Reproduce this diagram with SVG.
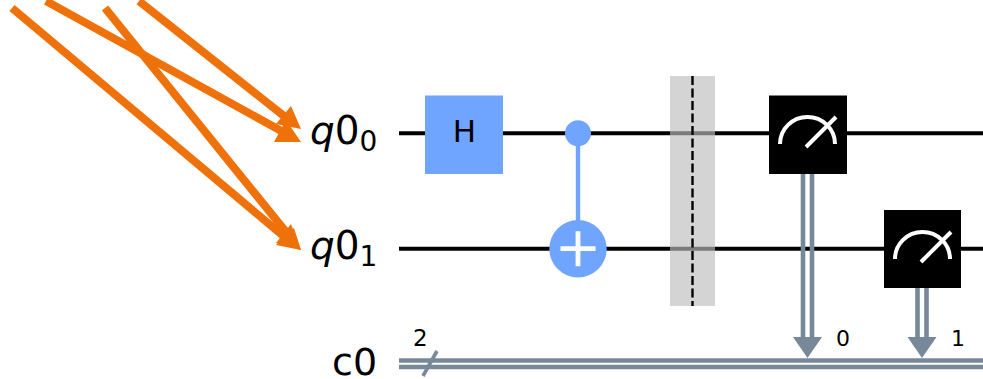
<svg xmlns="http://www.w3.org/2000/svg" width="983" height="379" viewBox="0 0 983 379">
<style>
text{font-family:"DejaVu Sans",sans-serif;fill:#000}
.wire{stroke:#000;stroke-width:4;fill:none}
.cl{stroke:#778899;stroke-width:4.6;fill:none}
.ar{stroke:#ef710a;stroke-width:8;fill:none}
.g{stroke:#fff;stroke-width:4;fill:none}
.mb{fill:#000}
.blue{fill:#6fa4ff}
</style>
<rect width="983" height="379" fill="#fff"/>
<g id="wires">
<line class="wire" x1="399" y1="133.3" x2="983" y2="133.3"/>
<line class="wire" x1="399" y1="248.7" x2="983" y2="248.7"/>
<line class="cl" x1="399" y1="360.5" x2="983" y2="360.5"/>
<line class="cl" x1="399" y1="367" x2="983" y2="367"/>
<line x1="423" y1="376" x2="437" y2="351" stroke="#778899" stroke-width="3.6"/>
</g>
<g id="labels">
<text id="q00" x="310" y="143.500" font-size="39"><tspan font-style="italic">q</tspan>0<tspan font-size="28" dy="7">0</tspan></text>
<text id="q01" x="310" y="259" font-size="39"><tspan font-style="italic">q</tspan>0<tspan font-size="28" dy="7">1</tspan></text>
<text id="c0" x="332" y="375" font-size="38">c0</text>
<text id="n2" x="413" y="346" font-size="23">2</text>
<text id="m0" x="836" y="346" font-size="22">0</text>
<text id="m1" x="951" y="346" font-size="22">1</text>
</g>
<g id="h"><rect class="blue" x="425" y="95.500" width="78" height="78.500"/><text x="464.500" y="142" font-size="31" text-anchor="middle">H</text></g>
<g id="cx">
<line x1="578" y1="133" x2="578" y2="248" stroke="#6fa4ff" stroke-width="4.400"/>
<circle class="blue" cx="578" cy="133.300" r="13"/>
<circle class="blue" cx="578" cy="248.700" r="28.700"/>
<path d="M560.500 248.700H595.500M578 231.200V266.200" stroke="#fff" stroke-width="4.800" fill="none"/>
</g>
<g id="barrier">
<rect x="670" y="76" width="45" height="230" fill="#bdbdbd" fill-opacity="0.65"/>
<line x1="692.500" y1="76" x2="692.500" y2="306" stroke="#000" stroke-width="2.400" stroke-dasharray="9 3.500"/>
</g>
<g id="meas0">
<line class="cl" x1="803" y1="174" x2="803" y2="340"/><line class="cl" x1="812" y1="174" x2="812" y2="340"/>
<polygon points="793,337 822,337 807.500,358" fill="#778899"/>
<rect class="mb" x="769" y="95.500" width="78" height="78.500"/>
<path class="g" d="M780 144A27.500 27 0 0 1 835 144M806 147L836 117"/>
</g>
<g id="meas1">
<line class="cl" x1="917.500" y1="288" x2="917.500" y2="340"/><line class="cl" x1="926.500" y1="288" x2="926.500" y2="340"/>
<polygon points="907.500,337 936.500,337 922,358" fill="#778899"/>
<rect class="mb" x="884" y="210" width="77" height="78"/>
<path class="g" d="M895 259A27.500 27 0 0 1 950 259M921 262L951 232"/>
</g>
<g id="connectors">
<line class="ar" x1="12" y1="8" x2="294" y2="245"/><polygon points="301,250 276,243 291,224" fill="#ef710a"/>
<line class="ar" x1="46" y1="1" x2="294" y2="138"/><polygon points="301,142 274,142 286,120" fill="#ef710a"/>
<line class="ar" x1="105" y1="8" x2="295" y2="243"/><polygon points="301,250 276,245 294,228" fill="#ef710a"/>
<line class="ar" x1="139" y1="1" x2="294" y2="124"/><polygon points="301,129 276,124 291,106" fill="#ef710a"/>
</g>
</svg>
